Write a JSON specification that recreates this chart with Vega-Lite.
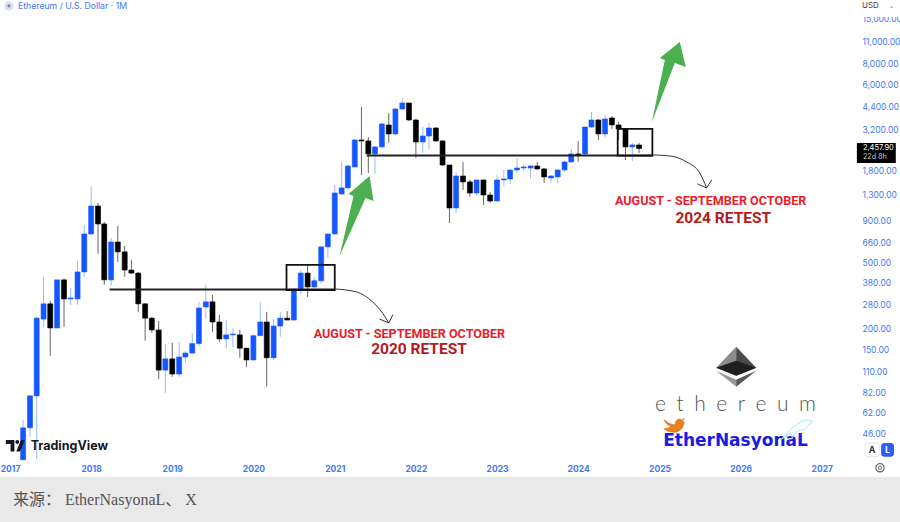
{"$schema":"https://vega.github.io/schema/vega-lite/v6.json","width":900,"height":522,"padding":0,"autosize":{"type":"none"},"background":"#ffffff","config":{"view":{"stroke":null},"axis":{"grid":false,"domain":false,"ticks":false,"title":null}},
"datasets":{"candles":[
{"date":"2017-03-01","open":32.1,"high":56,"low":32.1,"close":50.1,"dir":"up"},
{"date":"2017-04-01","open":50.1,"high":78.2,"low":44.2,"close":78.2,"dir":"up"},
{"date":"2017-05-01","open":78.2,"high":234.7,"low":32.5,"close":231,"dir":"up"},
{"date":"2017-06-01","open":228,"high":411,"low":204,"close":282,"dir":"up"},
{"date":"2017-07-01","open":282,"high":294,"low":136.4,"close":201.5,"dir":"down"},
{"date":"2017-08-01","open":201.5,"high":394,"low":201.5,"close":394,"dir":"up"},
{"date":"2017-09-01","open":394,"high":400,"low":204,"close":302,"dir":"down"},
{"date":"2017-10-01","open":302,"high":352,"low":278,"close":306,"dir":"up"},
{"date":"2017-11-01","open":302,"high":513,"low":278,"close":440,"dir":"up"},
{"date":"2017-12-01","open":440,"high":847,"low":411,"close":747,"dir":"up"},
{"date":"2018-01-01","open":747,"high":1459,"low":737,"close":1103,"dir":"up"},
{"date":"2018-02-01","open":1103,"high":1151,"low":566,"close":859,"dir":"down"},
{"date":"2018-03-01","open":859,"high":883,"low":368,"close":394,"dir":"down"},
{"date":"2018-04-01","open":394,"high":706,"low":362,"close":668,"dir":"up"},
{"date":"2018-05-01","open":668,"high":835,"low":506,"close":582,"dir":"down"},
{"date":"2018-06-01","open":582,"high":632,"low":411,"close":452,"dir":"down"},
{"date":"2018-07-01","open":452,"high":520,"low":428,"close":433,"dir":"down"},
{"date":"2018-08-01","open":433,"high":440,"low":252,"close":282,"dir":"down"},
{"date":"2018-09-01","open":282,"high":286,"low":169,"close":231,"dir":"down"},
{"date":"2018-10-01","open":231,"high":235,"low":188,"close":196,"dir":"down"},
{"date":"2018-11-01","open":196,"high":222,"low":99,"close":112,"dir":"down"},
{"date":"2018-12-01","open":112,"high":162,"low":81.5,"close":131,"dir":"up"},
{"date":"2019-01-01","open":131,"high":164,"low":102,"close":106,"dir":"down"},
{"date":"2019-02-01","open":106,"high":166,"low":102,"close":134.5,"dir":"up"},
{"date":"2019-03-01","open":134.5,"high":146,"low":124,"close":142,"dir":"up"},
{"date":"2019-04-01","open":142,"high":188,"low":140,"close":162,"dir":"up"},
{"date":"2019-05-01","open":162,"high":290,"low":157,"close":266,"dir":"up"},
{"date":"2019-06-01","open":270,"high":368,"low":228,"close":290,"dir":"up"},
{"date":"2019-07-01","open":290,"high":319,"low":191,"close":219,"dir":"down"},
{"date":"2019-08-01","open":219,"high":242,"low":166,"close":173,"dir":"down"},
{"date":"2019-09-01","open":173,"high":225,"low":152,"close":183,"dir":"up"},
{"date":"2019-10-01","open":183,"high":201.5,"low":154,"close":185,"dir":"up"},
{"date":"2019-11-01","open":183,"high":196,"low":133,"close":152,"dir":"down"},
{"date":"2019-12-01","open":152,"high":152,"low":117,"close":129,"dir":"down"},
{"date":"2020-01-01","open":129,"high":183,"low":129,"close":181,"dir":"up"},
{"date":"2020-02-01","open":181,"high":290,"low":181,"close":219,"dir":"up"},
{"date":"2020-03-01","open":219,"high":252,"low":89,"close":133,"dir":"down"},
{"date":"2020-04-01","open":133,"high":228,"low":129,"close":207,"dir":"up"},
{"date":"2020-05-01","open":207,"high":252,"low":178,"close":231,"dir":"up"},
{"date":"2020-06-01","open":231,"high":255,"low":225,"close":225,"dir":"down"},
{"date":"2020-07-01","open":225,"high":347,"low":225,"close":347,"dir":"up"},
{"date":"2020-08-01","open":347,"high":452,"low":324,"close":433,"dir":"up"},
{"date":"2020-09-01","open":433,"high":485,"low":310,"close":357,"dir":"down"},
{"date":"2020-10-01","open":357,"high":411,"low":337,"close":389,"dir":"up"},
{"date":"2020-11-01","open":389,"high":624,"low":378,"close":624,"dir":"up"},
{"date":"2020-12-01","open":624,"high":747,"low":535,"close":747,"dir":"up"},
{"date":"2021-01-01","open":747,"high":1479,"low":737,"close":1322,"dir":"up"},
{"date":"2021-02-01","open":1304,"high":2038,"low":1286,"close":1419,"dir":"up"},
{"date":"2021-03-01","open":1419,"high":1954,"low":1419,"close":1927,"dir":"up"},
{"date":"2021-04-01","open":1901,"high":2808,"low":1901,"close":2769,"dir":"up"},
{"date":"2021-05-01","open":2769,"high":4387,"low":1700,"close":2731,"dir":"down"},
{"date":"2021-06-01","open":2731,"high":2888,"low":1748,"close":2279,"dir":"down"},
{"date":"2021-07-01","open":2279,"high":2546,"low":1725,"close":2513,"dir":"up"},
{"date":"2021-08-01","open":2513,"high":3508,"low":2443,"close":3462,"dir":"up"},
{"date":"2021-09-01","open":3413,"high":4033,"low":2655,"close":3011,"dir":"down"},
{"date":"2021-10-01","open":3011,"high":4324,"low":2969,"close":4265,"dir":"up"},
{"date":"2021-11-01","open":4265,"high":4971,"low":4206,"close":4636,"dir":"up"},
{"date":"2021-12-01","open":4636,"high":4636,"low":3608,"close":3659,"dir":"down"},
{"date":"2022-01-01","open":3659,"high":3710,"low":2154,"close":2694,"dir":"down"},
{"date":"2022-02-01","open":2694,"high":3320,"low":2310,"close":2927,"dir":"up"},
{"date":"2022-03-01","open":2927,"high":3508,"low":2443,"close":3272,"dir":"up"},
{"date":"2022-04-01","open":3272,"high":3320,"low":2694,"close":2731,"dir":"down"},
{"date":"2022-05-01","open":2731,"high":2769,"low":1927,"close":1954,"dir":"down"},
{"date":"2022-06-01","open":1954,"high":1954,"low":871,"close":1073,"dir":"down"},
{"date":"2022-07-01","open":1073,"high":1773,"low":1001,"close":1676,"dir":"up"},
{"date":"2022-08-01","open":1676,"high":2038,"low":1380,"close":1543,"dir":"down"},
{"date":"2022-09-01","open":1543,"high":1586,"low":1252,"close":1322,"dir":"down"},
{"date":"2022-10-01","open":1322,"high":1586,"low":1268,"close":1586,"dir":"up"},
{"date":"2022-11-01","open":1586,"high":1586,"low":1119,"close":1286,"dir":"down"},
{"date":"2022-12-01","open":1286,"high":1342,"low":1151,"close":1183,"dir":"down"},
{"date":"2023-01-01","open":1183,"high":1700,"low":1183,"close":1586,"dir":"up"},
{"date":"2023-02-01","open":1586,"high":1823,"low":1459,"close":1608,"dir":"up"},
{"date":"2023-03-01","open":1608,"high":1823,"low":1500,"close":1823,"dir":"up"},
{"date":"2023-04-01","open":1823,"high":2154,"low":1748,"close":1874,"dir":"up"},
{"date":"2023-05-01","open":1874,"high":1954,"low":1798,"close":1901,"dir":"up"},
{"date":"2023-06-01","open":1874,"high":1954,"low":1630,"close":1927,"dir":"up"},
{"date":"2023-07-01","open":1927,"high":2038,"low":1823,"close":1849,"dir":"down"},
{"date":"2023-08-01","open":1849,"high":1874,"low":1521,"close":1654,"dir":"down"},
{"date":"2023-09-01","open":1630,"high":1700,"low":1521,"close":1676,"dir":"up"},
{"date":"2023-10-01","open":1654,"high":1823,"low":1521,"close":1823,"dir":"up"},
{"date":"2023-11-01","open":1823,"high":2066,"low":1773,"close":2038,"dir":"up"},
{"date":"2023-12-01","open":2038,"high":2443,"low":2009,"close":2279,"dir":"up"},
{"date":"2024-01-01","open":2279,"high":2731,"low":2038,"close":2247,"dir":"down"},
{"date":"2024-02-01","open":2279,"high":3320,"low":2247,"close":3320,"dir":"up"},
{"date":"2024-03-01","open":3320,"high":4091,"low":3272,"close":3659,"dir":"up"},
{"date":"2024-04-01","open":3659,"high":3710,"low":2769,"close":3011,"dir":"down"},
{"date":"2024-05-01","open":3011,"high":3923,"low":2847,"close":3710,"dir":"up"},
{"date":"2024-06-01","open":3761,"high":3868,"low":3228,"close":3413,"dir":"down"},
{"date":"2024-07-01","open":3413,"high":3560,"low":2769,"close":3228,"dir":"down"},
{"date":"2024-08-01","open":3228,"high":3272,"low":2095,"close":2513,"dir":"down"},
{"date":"2024-09-01","open":2513,"high":2655,"low":2066,"close":2582,"dir":"up"},
{"date":"2024-10-01","open":2582,"high":2655,"low":2310,"close":2458,"dir":"down"}
],"logo":[{"date":"2025-12-12","price":117.5}]},
"encoding":{
"x":{"field":"date","type":"temporal","title":null,"scale":{"domain":["2016-11-17","2027-12-19"],"nice":false,"padding":0},"axis":{"orient":"bottom","offset":-60,"format":"%Y","labelColor":"#3f78f5","labelFontSize":8.5,"labelFontWeight":"bold","labelFont":"Inter","labelPadding":2,"labelOverlap":false,"values":[{"year":2017},{"year":2018},{"year":2019},{"year":2020},{"year":2021},{"year":2022},{"year":2023},{"year":2024},{"year":2025},{"year":2026},{"year":2027}]}},
"y":{"field":"price","type":"quantitative","title":null,"scale":{"type":"log","domain":[13.48,19480],"nice":false,"padding":0},"axis":{"orient":"right","offset":-45,"format":",.2f","labelColor":"#3f78f5","labelFontSize":8.5,"labelFont":"Inter","labelPadding":7,"labelOverlap":false,"labelLimit":60,"values":[15000,11000,8000,6000,4400,3200,1800,1300,900,660,500,380,280,200,150,110,82,62,46]}}
},
"layer":[
{"data":{"name":"candles"},"mark":{"type":"rule","strokeWidth":1},"encoding":{"y":{"field":"high","type":"quantitative","title":null},"y2":{"field":"low"},"color":{"field":"dir","type":"nominal","legend":null,"scale":{"domain":["up","down"],"range":["#9db8ff","#666666"]}}}},
{"data":{"name":"candles"},"mark":{"type":"bar","width":5,"strokeWidth":0.6},"encoding":{"y":{"field":"open","type":"quantitative","title":null},"y2":{"field":"close"},"stroke":{"field":"dir","type":"nominal","legend":null,"scale":{"domain":["up","down"],"range":["#1557ff","#000000"]}},"fill":{"field":"dir","type":"nominal","legend":null,"scale":{"domain":["up","down"],"range":["#1557ff","#000000"]}}}},
{"data":{"values":[{"date":"2018-03-25","end":"2021-01-01","price":344},{"date":"2021-05-25","end":"2024-12-01","price":2227}]},"mark":{"type":"rule","strokeWidth":2,"color":"#222222"},"encoding":{"x2":{"field":"end"}}},
{"data":{"values":[{"date":"2020-05-29","end":"2021-01-01","price":485,"bottom":342},{"date":"2024-06-27","end":"2024-11-30","price":3228,"bottom":2227}]},"mark":{"type":"rect","fill":"transparent","stroke":"#111111","strokeWidth":1.8},"encoding":{"x2":{"field":"end"},"y2":{"field":"bottom"}}},
{"data":{"values":[{"date":"2021-01-01","price":347,"curve":"a"},{"date":"2021-04-09","price":333,"curve":"a"},{"date":"2021-06-20","price":290,"curve":"a"},{"date":"2021-08-04","price":248,"curve":"a"},{"date":"2021-09-01","price":216,"curve":"a"},{"date":"2024-12-01","price":2247,"curve":"b"},{"date":"2025-02-16","price":2216,"curve":"b"},{"date":"2025-05-03","price":2038,"curve":"b"},{"date":"2025-07-01","price":1748,"curve":"b"},{"date":"2025-08-01","price":1419,"curve":"b"}]},"mark":{"type":"line","interpolate":"monotone","strokeWidth":1,"color":"#333333"},"encoding":{"detail":{"field":"curve"}}},
{"data":{"values":[{"date":"2021-07-22","price":228,"curve":"a"},{"date":"2021-09-01","price":216,"curve":"a"},{"date":"2021-09-19","price":242,"curve":"a"},{"date":"2025-06-22","price":1500,"curve":"b"},{"date":"2025-08-01","price":1419,"curve":"b"},{"date":"2025-08-24","price":1586,"curve":"b"}]},"mark":{"type":"line","strokeWidth":1,"color":"#333333"},"encoding":{"detail":{"field":"curve"}}},
{"data":{"values":[{"date":"2021-04-09","price":960}]},"mark":{"type":"point","filled":true,"opacity":1,"size":6400,"color":"#4caf50","shape":"M-.425,1L-.075,-.5L-.2,-.55L.325,-1L.425,-.375L.225,-.45Z"}},
{"data":{"values":[{"date":"2025-02-12","price":6215}]},"mark":{"type":"point","filled":true,"opacity":1,"size":6400,"color":"#4caf50","shape":"M-.425,1L-.1,-.55L-.225,-.6L.275,-1L.425,-.375L.15,-.475Z"}},
{"data":{"values":[{"date":"2021-12-03","price":185,"label":"AUGUST - SEPTEMBER OCTOBER"},{"date":"2025-08-19","price":1183,"label":"AUGUST - SEPTEMBER OCTOBER"}]},"mark":{"type":"text","font":"Roboto","fontWeight":"bold","fontSize":12.6,"color":"#e8202a","align":"center","baseline":"middle"},"encoding":{"text":{"field":"label"}}},
{"data":{"values":[{"date":"2022-01-15","price":150,"label":"2020 RETEST"},{"date":"2025-10-15","price":933,"label":"2024 RETEST"}]},"mark":{"type":"text","font":"Roboto","fontWeight":"bold","fontSize":15.5,"color":"#b31b20","align":"center","baseline":"middle"},"encoding":{"text":{"field":"label"}}},
{"data":{"name":"logo"},"mark":{"type":"point","filled":true,"opacity":1,"size":1600,"color":"#8c8c8c","shape":"M0,-1L-1,.05L0,.45Z"}},
{"data":{"name":"logo"},"mark":{"type":"point","filled":true,"opacity":1,"size":1600,"color":"#4a4a4a","shape":"M0,-1L1,.05L0,.45Z"}},
{"data":{"name":"logo"},"mark":{"type":"point","filled":true,"opacity":1,"size":1600,"color":"#1f1f1f","shape":"M-1,.05L0,-.3L1,.05L0,.45Z"}},
{"data":{"name":"logo"},"mark":{"type":"point","filled":true,"opacity":1,"size":1600,"color":"#9a9a9a","shape":"M-1,.2L0,.65L0,1Z"}},
{"data":{"name":"logo"},"mark":{"type":"point","filled":true,"opacity":1,"size":1600,"color":"#555555","shape":"M1,.2L0,.65L0,1Z"}},
{"data":{"values":[{"date":"2025-12-09","price":69,"label":"e\u2002t\u2002h\u2002e\u2002r\u2002e\u2002u\u2002m"}]},"mark":{"type":"text","font":"Lato","fontWeight":300,"fontSize":21,"color":"#555555","align":"center","baseline":"middle"},"encoding":{"text":{"field":"label"}}},
{"data":{"values":[{"date":"2025-12-09","price":41.8,"label":"EtherNasyonaL"}]},"mark":{"type":"text","font":"DejaVu Sans","fontWeight":"bold","fontSize":17,"color":"#1c1ce0","align":"center","baseline":"middle"},"encoding":{"text":{"field":"label"}}},
{"data":{"values":[{"date":"2025-03-03","price":51.8}]},"mark":{"type":"point","filled":true,"opacity":1,"size":380,"color":"#e9821e","shape":"M-1,-.7C-.6,-.3 -.2,-.1 .2,-.1C.2,-.6 .6,-.8 .9,-.6L1.2,-.8L1,-.4L1.2,-.4C1.1,.5 .4,.9 -.2,.7C-.5,.7 -.9,.5 -1,.3C-.6,.3 -.4,.2 -.3,.1C-.6,0 -.9,-.3 -1,-.7Z"}},
{"data":{"values":[{"date":"2026-09-12","price":48.7}]},"mark":{"type":"point","filled":false,"opacity":1,"size":1024,"strokeWidth":1,"color":"#a8e6f0","shape":"M-1,.6C-.6,.2 -.3,-.2 .1,-.4C.3,-.6 .7,-.7 1,-.5L.7,-.3C.6,0 .2,0 0,.1L-.3,.5L-.4,.2Z"}},
{"data":{"values":[{"date":"2017-01-25","price":39}]},"mark":{"type":"point","filled":true,"opacity":1,"size":361,"color":"#131722","shape":"M-1,-.6H-.1V.6H-.5V-.2H-1ZM.2,-.6a.2.2 0 1 0 .01 0ZM.6,-.6H1L.5,.6H.1Z"}},
{"data":{"values":[{"date":"2017-04-04","price":39,"label":"TradingView"}]},"mark":{"type":"text","font":"Inter","fontWeight":"bold","fontSize":12.5,"color":"#131722","align":"left","baseline":"middle"},"encoding":{"text":{"field":"label"}}},
{"data":{"values":[{"date":"2016-12-27","price":17920}]},"mark":{"type":"point","filled":true,"opacity":1,"size":90,"color":"#dcdef5","shape":"circle"}},
{"data":{"values":[{"date":"2016-12-27","price":17920}]},"mark":{"type":"point","filled":true,"opacity":1,"size":14,"color":"#7a7ad0","shape":"diamond"}},
{"data":{"values":[{"date":"2017-02-06","price":17920,"label":"Ethereum / U.S. Dollar · 1M"}]},"mark":{"type":"text","font":"Inter","fontSize":8.7,"color":"#3f78f5","align":"left","baseline":"middle"},"encoding":{"text":{"field":"label"}}},
{"data":{"values":[{"date":"2027-06-08","end":"2027-12-19","price":19480,"bottom":15375}]},"mark":{"type":"rect","fill":"#ffffff"},"encoding":{"x2":{"field":"end"},"y2":{"field":"bottom"}}},
{"data":{"values":[{"date":"2027-07-01","price":17920,"label":"USD"}]},"mark":{"type":"text","font":"Inter","fontSize":8,"color":"#444444","align":"left","baseline":"middle"},"encoding":{"text":{"field":"label"}}},
{"data":{"values":[{"date":"2027-11-12","price":18000,"label":"⌄"}]},"mark":{"type":"text","font":"DejaVu Sans","fontSize":7,"color":"#777777","align":"center","baseline":"middle"},"encoding":{"text":{"field":"label"}}},
{"data":{"values":[{"date":"2027-06-08","end":"2027-11-30","price":2655,"bottom":2009}]},"mark":{"type":"rect","fill":"#000000"},"encoding":{"x2":{"field":"end"},"y2":{"field":"bottom"}}},
{"data":{"values":[{"date":"2027-07-05","price":2476,"label":"2,457.90"}]},"mark":{"type":"text","font":"Inter","fontSize":7.5,"color":"#ffffff","align":"left","baseline":"middle"},"encoding":{"text":{"field":"label"}}},
{"data":{"values":[{"date":"2027-07-05","price":2185,"label":"22d 8h"}]},"mark":{"type":"text","font":"Inter","fontSize":7.2,"color":"#cccccc","align":"left","baseline":"middle"},"encoding":{"text":{"field":"label"}}},
{"data":{"values":[{"date":"2027-07-15","end":"2027-09-16","price":40.6,"bottom":33.5}]},"mark":{"type":"rect","fill":"#ffffff","stroke":"#e6e6e6","cornerRadius":3},"encoding":{"x2":{"field":"end"},"y2":{"field":"bottom"}}},
{"data":{"values":[{"date":"2027-09-25","end":"2027-11-22","price":40.6,"bottom":33.5}]},"mark":{"type":"rect","fill":"#2962ff","cornerRadius":3},"encoding":{"x2":{"field":"end"},"y2":{"field":"bottom"}}},
{"data":{"values":[{"date":"2027-08-15","price":36.9,"label":"A"}]},"mark":{"type":"text","font":"Inter","fontWeight":"bold","fontSize":9,"color":"#333333","align":"center","baseline":"middle"},"encoding":{"text":{"field":"label"}}},
{"data":{"values":[{"date":"2027-10-24","price":36.9,"label":"L"}]},"mark":{"type":"text","font":"Inter","fontWeight":"bold","fontSize":9,"color":"#ffffff","align":"center","baseline":"middle"},"encoding":{"text":{"field":"label"}}},
{"data":{"values":[{"date":"2027-09-20","price":28.7}]},"mark":{"type":"point","filled":false,"opacity":1,"size":70,"strokeWidth":1.2,"color":"#666666","shape":"circle"}},
{"data":{"values":[{"date":"2027-09-20","price":28.7}]},"mark":{"type":"point","filled":false,"opacity":1,"size":10,"strokeWidth":1,"color":"#666666","shape":"circle"}},
{"data":{"values":[{"date":"2016-11-17","end":"2027-12-19","price":25.3,"bottom":13.48}]},"mark":{"type":"rect","fill":"#e9e9e9"},"encoding":{"x2":{"field":"end"},"y2":{"field":"bottom"}}},
{"data":{"values":[{"date":"2017-01-14","price":18.4,"label":"来源： EtherNasyonaL、 X"}]},"mark":{"type":"text","font":"Liberation Serif, Noto Sans CJK SC","fontSize":16,"color":"#555555","align":"left","baseline":"middle"},"encoding":{"text":{"field":"label"}}}
]}
